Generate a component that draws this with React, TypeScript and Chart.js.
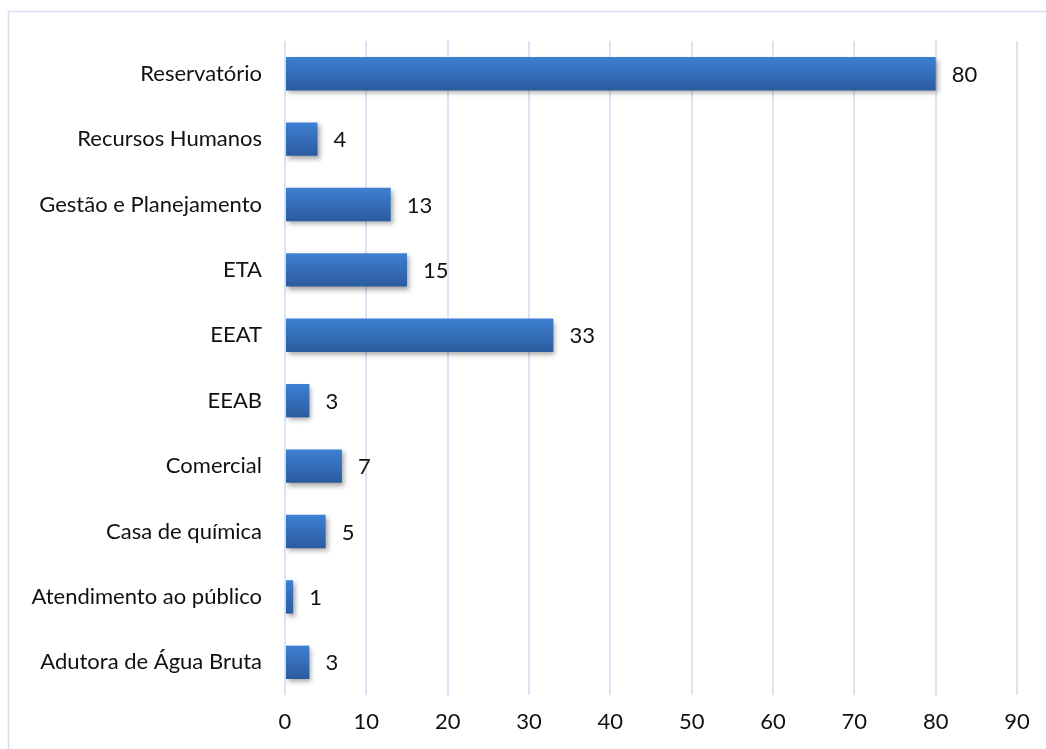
import React, { useEffect, useRef } from "react";
import { Chart, registerables } from "chart.js";

Chart.register(...registerables);

const categories = [
  "Reservatório",
  "Recursos Humanos",
  "Gestão e Planejamento",
  "ETA",
  "EEAT",
  "EEAB",
  "Comercial",
  "Casa de química",
  "Atendimento ao público",
  "Adutora de Água Bruta",
];
const values = [80, 4, 13, 15, 33, 3, 7, 5, 1, 3];
const xTicks = [0, 10, 20, 30, 40, 50, 60, 70, 80, 90];

const FONT = "Lato, 'Open Sans', sans-serif";
const FONT_SIZE = 22;

const framePlugin = {
  id: "frame",
  beforeDraw(chart: any) {
    const ctx = chart.ctx;
    ctx.save();
    ctx.strokeStyle = "#d5dff0";
    ctx.lineWidth = 1.5;
    ctx.beginPath();
    ctx.moveTo(8.5, chart.height + 5);
    ctx.lineTo(8.5, 11.5);
    ctx.lineTo(chart.width + 5, 11.5);
    ctx.stroke();
    ctx.restore();
  },
};

const barStylePlugin = {
  id: "barStyle",
  beforeDatasetsDraw(chart: any) {
    const ctx = chart.ctx;
    const meta = chart.getDatasetMeta(0);
    meta.data.forEach((el: any) => {
      const h = el.height;
      const g = ctx.createLinearGradient(0, el.y - h / 2, 0, el.y + h / 2);
      g.addColorStop(0, "#3e80d3");
      g.addColorStop(1, "#2b5b9e");
      el.options = Object.assign({}, el.options, { backgroundColor: g });
    });
    ctx.save();
    ctx.shadowColor = "rgba(0,0,0,0.35)";
    ctx.shadowBlur = 5;
    ctx.shadowOffsetX = 2;
    ctx.shadowOffsetY = 3;
  },
  afterDatasetsDraw(chart: any) {
    const ctx = chart.ctx;
    ctx.restore();
    const meta = chart.getDatasetMeta(0);
    ctx.save();
    ctx.fillStyle = "#111";
    ctx.font = `${FONT_SIZE}px ${FONT}`;
    ctx.textAlign = "left";
    ctx.textBaseline = "middle";
    meta.data.forEach((el: any, i: number) => {
      ctx.fillText(String(values[i]), el.x + 16, el.y + 1);
    });
    ctx.restore();
  },
};

export default function App() {
  const ref = useRef<HTMLCanvasElement>(null);
  useEffect(() => {
    document.body.style.margin = "0";
    document.body.style.overflow = "hidden";
    const chart = new Chart(ref.current!, {
      type: "bar",
      data: {
        labels: categories,
        datasets: [
          {
            data: values,
            backgroundColor: () => "#3568b8",
            barPercentage: 0.51,
            categoryPercentage: 1,
          },
        ],
      },
      options: {
        indexAxis: "y",
        animation: false,
        responsive: false,
        maintainAspectRatio: false,
        layout: { padding: { top: 41, right: 29, bottom: 0, left: 0 } },
        plugins: {
          legend: { display: false },
          tooltip: { enabled: false },
        },
        scales: {
          x: {
            min: 0,
            max: 90,
            afterBuildTicks: (s: any) => {
              s.ticks = xTicks.map((v) => ({ value: v }));
            },
            afterFit: (s: any) => {
              s.height = 54;
            },
            grid: { color: "#d9e4f4", lineWidth: 2, drawTicks: false },
            border: { display: false },
            ticks: {
              color: "#111",
              font: { family: FONT, size: FONT_SIZE },
              padding: 14,
              maxRotation: 0,
            },
          },
          y: {
            afterFit: (s: any) => {
              s.width = 285;
            },
            grid: { display: false, drawTicks: false },
            border: { display: false },
            ticks: {
              color: "#111",
              font: { family: FONT, size: FONT_SIZE },
              padding: 23,
            },
          },
        },
      },
      plugins: [framePlugin, barStylePlugin],
    });
    return () => chart.destroy();
  }, []);
  return <canvas ref={ref} width={1046} height={749} style={{ display: "block" }} />;
}
